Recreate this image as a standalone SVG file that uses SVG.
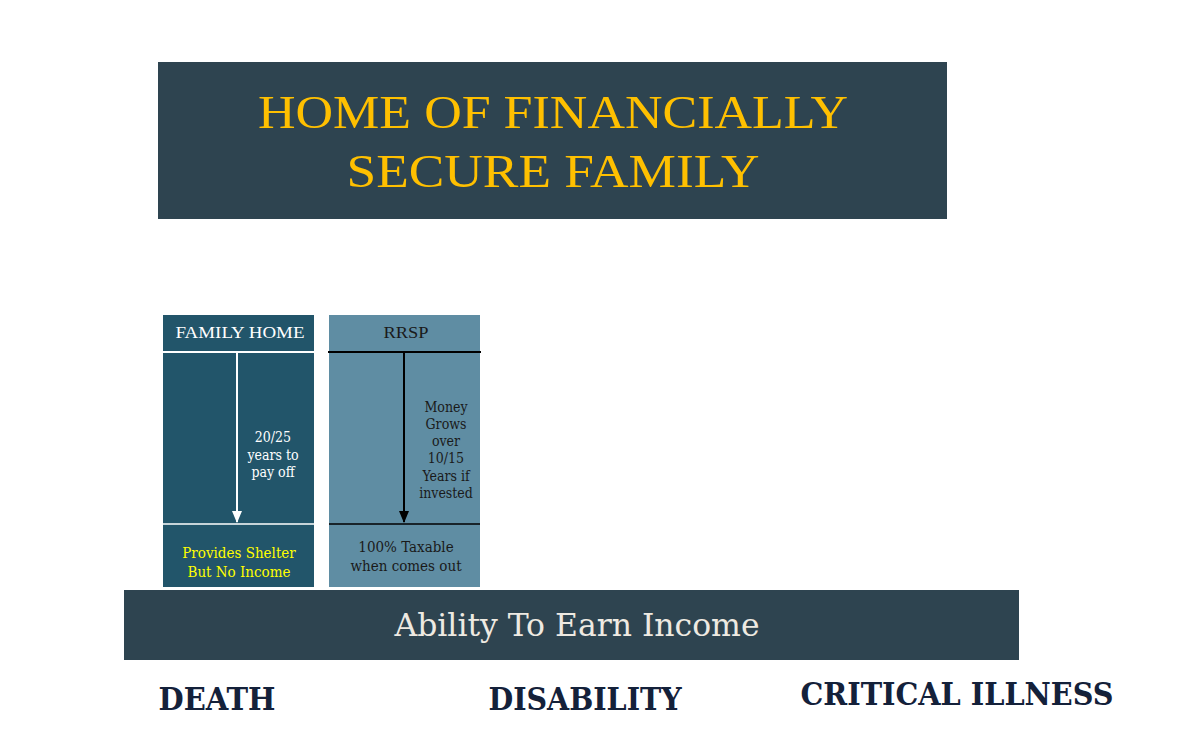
<svg xmlns="http://www.w3.org/2000/svg" width="1186" height="729" viewBox="0 0 1186 729">
<style>
.serif{font-family:"DejaVu Serif Condensed","DejaVu Serif","Liberation Serif",serif;text-anchor:middle}
.lib{font-family:"Liberation Serif",serif;text-anchor:middle}
.sm{font-size:14px}
.bold{font-family:"DejaVu Serif Condensed","DejaVu Serif",serif;font-weight:bold;font-size:31px;fill:#14213A}
</style>
<defs>
<marker id="aw" markerWidth="10" markerHeight="12" refX="5" refY="11" markerUnits="userSpaceOnUse" viewBox="0 0 10 12"><path d="M0,0 L10,0 L5,12 Z" fill="#ffffff"/></marker>
<marker id="ab" markerWidth="10" markerHeight="12" refX="5" refY="11" markerUnits="userSpaceOnUse" viewBox="0 0 10 12"><path d="M0,0 L10,0 L5,12 Z" fill="#000000"/></marker>
</defs>
<rect width="1186" height="729" fill="#ffffff"/>
<g id="title">
<rect x="158" y="62" width="789" height="157" fill="#2E4450"/>
<text class="lib" x="553" y="128" font-size="47" fill="#FFC000" textLength="590" lengthAdjust="spacingAndGlyphs">HOME OF FINANCIALLY</text>
<text class="lib" x="553" y="187" font-size="47" fill="#FFC000" textLength="413" lengthAdjust="spacingAndGlyphs">SECURE FAMILY</text>
</g>
<g id="family-home">
<rect x="163" y="315" width="151" height="272" fill="#22556A"/>
<line x1="163" y1="352" x2="314" y2="352" stroke="#ffffff" stroke-width="2"/>
<line x1="163" y1="524" x2="314" y2="524" stroke="#ffffff" stroke-width="1.5"/>
<text class="lib" x="240" y="338" font-size="17" fill="#ffffff" textLength="129" lengthAdjust="spacingAndGlyphs">FAMILY HOME</text>
<text class="serif sm" x="273" y="442" fill="#ffffff">20/25</text>
<text class="serif sm" x="273" y="460" fill="#ffffff">years to</text>
<text class="serif sm" x="273" y="477" fill="#ffffff">pay off</text>
<text class="serif" x="239" y="558" font-size="15" fill="#FFFF00">Provides Shelter</text>
<text class="serif" x="239" y="577" font-size="15" fill="#FFFF00">But No Income</text>
</g>
<g id="rrsp">
<rect x="329" y="315" width="151" height="272" fill="#5F8DA3"/>
<line x1="328" y1="352" x2="481" y2="352" stroke="#000000" stroke-width="2"/>
<line x1="329" y1="524" x2="480" y2="524" stroke="#000000" stroke-width="1.5"/>
<text class="lib" x="406" y="338" font-size="17" fill="#1a1a1a" textLength="45" lengthAdjust="spacingAndGlyphs">RRSP</text>
<text class="serif sm" x="446" y="412" fill="#1a1a1a">Money</text>
<text class="serif sm" x="446" y="429" fill="#1a1a1a">Grows</text>
<text class="serif sm" x="446" y="446" fill="#1a1a1a">over</text>
<text class="serif sm" x="446" y="463" fill="#1a1a1a">10/15</text>
<text class="serif sm" x="446" y="481" fill="#1a1a1a">Years if</text>
<text class="serif sm" x="446" y="498" fill="#1a1a1a">invested</text>
<text class="serif" x="406" y="552" font-size="15" fill="#1a1a1a">100% Taxable</text>
<text class="serif" x="406" y="571" font-size="15" fill="#1a1a1a">when comes out</text>
</g>
<g id="connectors">
<line x1="237" y1="353" x2="237" y2="522" stroke="#ffffff" stroke-width="2" marker-end="url(#aw)"/>
<line x1="404" y1="353" x2="404" y2="522" stroke="#000000" stroke-width="2" marker-end="url(#ab)"/>
</g>
<g id="ability">
<rect x="124" y="590" width="895" height="70" fill="#2E4450"/>
<text class="serif" x="577" y="636" font-size="32" fill="#EEEAE2" textLength="365" lengthAdjust="spacingAndGlyphs">Ability To Earn Income</text>
</g>
<g id="risks">
<text class="bold" x="217" y="710" text-anchor="middle" textLength="117" lengthAdjust="spacingAndGlyphs">DEATH</text>
<text class="bold" x="585" y="710" text-anchor="middle" textLength="193" lengthAdjust="spacingAndGlyphs">DISABILITY</text>
<text class="bold" x="957" y="705" text-anchor="middle" textLength="313" lengthAdjust="spacingAndGlyphs">CRITICAL ILLNESS</text>
</g>
</svg>
